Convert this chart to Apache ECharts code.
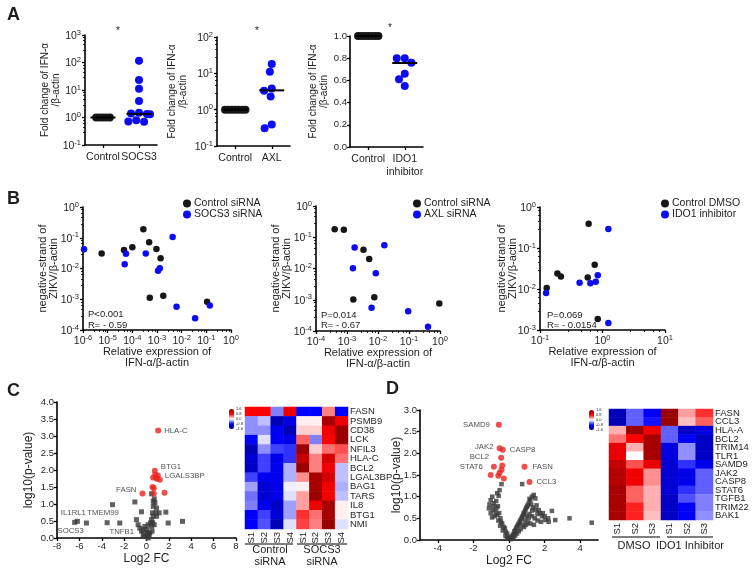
<!DOCTYPE html>
<html><head><meta charset="utf-8">
<script src="https://cdn.jsdelivr.net/npm/echarts@6/dist/echarts.min.js"></script>
<style>html,body{margin:0;padding:0;background:#fff}#main{width:754px;height:576px}</style>
</head><body><div id="main"></div>
<script>
// ================= DATA =================
// Panel A
const aCats1 = ['Control', 'SOCS3'];
const aCats2 = ['Control', 'AXL'];
const aCats3 = ['Control', 'IDO1\ninhibitor'];
const a1Control = [1, 1, 1, 1, 1];
const a1Socs3 = [115, 23, 11, 4.0, 1.5, 1.4, 1.35, 1.3, 0.8, 0.7, 0.72];
const a1Median = [1.0, 1.35];
const a2Control = [1, 1, 1, 1, 1, 1, 1];
const a2Axl = [18, 11, 3.8, 3.3, 2.3, 0.39, 0.31];
const a2Median = [1.0, 3.4];
const a3Control = [1, 1, 1, 1, 1, 1, 1];
const a3Ido = [0.80, 0.80, 0.76, 0.66, 0.61, 0.55];
const a3Median = [1.0, 0.757];

// Panel B  (x = relative IFN-a expression, y = negative-strand ZIKV)
const b1CtrlX = [5.7e-6, 4.6e-5, 1.0e-4, 2.8e-4, 4.8e-4, 9.5e-4, 1.4e-3, 5.1e-4, 1.8e-3, 0.107];
const b1CtrlY = [0.031, 0.040, 0.049, 0.19, 0.071, 0.043, 0.0214, 0.00112, 0.0013, 0.00083];
const b1SocsX = [1.1e-6, 5.5e-5, 4.9e-5, 3.5e-4, 4.3e-3, 1.1e-3, 1.3e-3, 6.2e-3, 0.035, 0.138];
const b1SocsY = [0.042, 0.030, 0.0137, 0.031, 0.106, 0.0085, 0.0102, 0.00057, 0.00024, 0.00063];
const b2CtrlX = [4.0e-4, 7.9e-4, 3.4e-3, 5.2e-3, 1.6e-3, 7.6e-3, 0.95];
const b2CtrlY = [0.18, 0.175, 0.040, 0.020, 0.00102, 0.0012, 0.00076];
const b2AxlX = [1.76e-3, 0.016, 1.55e-3, 8.5e-3, 6.2e-3, 0.094, 0.41];
const b2AxlY = [0.047, 0.055, 0.0102, 0.0070, 0.00055, 0.00043, 0.000138];
const b3CtrlX = [0.128, 0.19, 0.216, 0.60, 0.58, 0.75, 0.84];
const b3CtrlY = [0.0106, 0.024, 0.0203, 0.39, 0.0192, 0.039, 0.00186];
const b3IdoX = [0.125, 0.43, 0.64, 0.78, 0.84, 1.24, 1.24];
const b3IdoY = [0.0080, 0.0143, 0.0138, 0.0151, 0.0215, 0.29, 0.00148];
const bStats = [['P<0.001', 'R= - 0.59'], ['P=0.014', 'R= - 0.67'], ['P=0.069', 'R= - 0.0154']];

// Panel C volcano (x = log2 FC, y = log10 p)
const cRedX = [1.04, 0.74, 1.01, 0.59, 1.19, 0.92, 0.78, 0.54, 0.65, -0.36, 0.65, 1.61, 0.85];
const cRedY = [3.16, 1.98, 1.84, 1.78, 1.71, 1.74, 1.86, 1.50, 1.46, 1.31, 1.30, 1.33, 1.78];
const cRedNames = ['HLA-C', 'BTG1', 'LGALS3BP', '', '', '', '', '', '', 'FASN', '', '', ''];
const cGrayLabX = [-6.42, -6.18, -3.52, -2.39];
const cGrayLabY = [0.46, 0.49, 0.45, 0.44];
const cGrayLabNames = ['SOCS3', 'IL1RL1', 'TMEM99', 'TNFB1'];
const cGray = [[-5.37,0.44],[-3.04,0.98],[-1.04,1.06],[-0.45,0.77],[-0.9,0.54],[-0.75,0.39],[-0.6,0.29],
  [-0.45,0.2],[-0.3,0.1],[0,0.05],[0.15,0],[0.3,0.15],[0.45,0.34],[0.45,0.54],[0.54,0.74],[0.6,0.93],
  [0.6,1.08],[0.45,1.3],[0.75,1.03],[0.9,0.88],[0.9,0.64],[1.13,0.74],[1.73,0.76],[1.94,0.44],[3.22,0.49],
  [-0.15,0.34],[0,0.25],[0.06,0.17],[0.24,0.1],[0.36,0.44],[0.6,0.64],[0.15,0.39],[-0.3,0.25],[0.69,0.39],
  [0.84,0.74],[-0.2,0.05],[0.1,0.12],[0.5,0.2],[0.7,1.15],[0.55,0.45]];

// Panel C heatmap
const cGenes = ['FASN','PSMB9','CD38','LCK','NFIL3','HLA-C','BCL2','LGAL3BP','BAG1','TARS','IL8','BTG1','NMI'];
const cCols = ['S1','S2','S3','S4','S1','S2','S3','S4'];
const cGroups = [['Control', 'siRNA'], ['SOCS3', 'siRNA']];
const cHeat = [
  [0.8,0.8,-0.4,0.9,-0.8,-0.8,0.4,-0.8],
  [-0.35,-0.2,-1.3,-1.0,0.05,0.05,1.4,0.9],
  [-0.35,-0.35,-0.9,-1.3,0.15,0.15,0.9,1.5],
  [-0.8,-0.1,-0.85,-1.0,0.5,-0.4,0.8,1.5],
  [-1.3,-0.35,-0.6,-0.65,1.5,0.15,0.45,0.55],
  [-1.1,-0.6,-0.95,-0.65,1.2,0.4,1.1,0.45],
  [-1.2,-0.6,-0.9,-0.25,1.5,0.4,0.9,-0.2],
  [-0.6,-0.9,-0.9,-0.25,0.35,1.4,1.1,-0.2],
  [-0.3,-1.1,-0.95,-0.05,0.05,1.4,0.9,-0.25],
  [-0.45,-1.1,-0.95,-0.1,0.3,1.5,0.9,-0.2],
  [-0.4,-0.9,-1.2,-0.3,0.3,0.9,1.4,0.05],
  [-0.85,-0.6,-1.1,-0.3,0.65,0.45,1.4,0.05],
  [-0.8,-0.55,-1.3,-0.1,0.6,0.4,1.5,-0.1]
];

// Panel D volcano
const dRedX = [-0.57, -0.53, -0.35, -0.44, -0.85, -0.38, -0.42, -0.53, -1.03, -0.60, -0.29, 0.87, 1.15];
const dRedY = [2.66, 2.12, 2.08, 1.90, 1.69, 1.72, 1.62, 1.55, 1.50, 1.48, 1.42, 1.69, 1.34];
const dRedNames = ['SAMD9','JAK2','CASP8','BCL2','STAT6','','','','','','','FASN','CCL3'];
const dGray = [[-0.42,1.29],[-0.53,1.15],[-0.66,1.08],[-0.58,1.02],[-0.94,1.0],[-1.03,0.92],[-0.85,0.85],
  [-0.72,0.9],[-1.13,0.73],[-0.9,0.69],[-0.75,0.65],[-1.03,0.62],[-0.66,0.58],[-0.8,0.55],[-0.95,0.52],
  [-0.48,0.5],[-0.6,0.45],[-0.38,0.38],[-0.5,0.33],[-0.3,0.3],[-0.23,0.27],[-0.35,0.22],[-0.18,0.19],
  [-0.1,0.15],[-0.2,0.1],[-0.05,0.08],[0,0.04],[-0.12,0.03],[-0.62,0.78],[-0.7,0.74],[-0.88,0.78],
  [-1.1,0.82],[-0.55,0.62],[-0.45,0.42],[0.08,0.02],[0.15,0.05],[0.18,0.08],[0.27,0.15],[0.22,0.12],
  [0.36,0.23],[0.3,0.2],[0.46,0.31],[0.4,0.28],[0.55,0.38],[0.5,0.35],[0.64,0.46],[0.6,0.42],[0.74,0.54],
  [0.7,0.5],[0.83,0.62],[0.8,0.58],[0.92,0.69],[0.88,0.65],[1.01,0.77],[0.96,0.74],[1.1,0.85],[1.05,0.8],
  [1.2,0.92],[1.29,1.0],[1.39,1.04],[1.48,0.96],[0.74,1.29],[1.25,0.82],[1.35,0.75],[1.5,0.7],[1.67,0.69],
  [1.75,0.62],[1.85,0.55],[2.04,0.46],[2.23,0.42],[2.41,0.67],[2.6,0.46],[3.4,0.5],[4.65,0.4],[1.0,0.55],
  [1.15,0.6],[1.3,0.55],[1.45,0.5],[1.6,0.45],[1.8,0.42],[0.9,0.45],[1.05,0.4],[1.2,0.38],[1.4,0.35],
  [0.75,0.35],[0.85,0.3],[0.65,0.25],[0.55,0.2],[0.45,0.15],[0.35,0.1],[0.25,0.05],[1.1,0.5],[0.95,0.35],
  [1.6,0.6],[2.0,0.55],[2.2,0.5],[1.9,0.62],[1.3,0.68],[1.55,0.8],[1.15,0.95]];
const dTicks = [-4, -2, 0, 2, 4];

// Panel D heatmap
const dGenes = ['FASN','CCL3','HLA-A','BCL2','TRIM14','TLR1','SAMD9','JAK2','CASP8','STAT6','TGFB1','TRIM22','BAK1'];
const dCols = ['S1','S2','S3','S1','S2','S3'];
const dGroups = ['DMSO', 'IDO1 Inhibitor'];
const dHeat = [
  [-1.3,-0.5,-0.85,1.5,0.3,0.65],
  [-1.3,-0.5,-0.75,1.5,0.2,0.5],
  [0.25,1.5,0.9,-0.5,-1.2,-1.0],
  [0.45,0.8,1.4,-0.5,-0.85,-1.2],
  [0.95,0.25,1.4,-1.0,-0.35,-1.2],
  [0.95,0.0,1.4,-1.0,-0.35,-1.2],
  [1.2,0.55,0.95,-1.1,-0.65,-0.95],
  [1.3,0.9,0.35,-1.1,-0.95,-0.5],
  [1.3,0.9,0.35,-1.1,-0.95,-0.5],
  [1.4,0.5,0.25,-1.1,-0.65,-0.5],
  [1.4,0.5,0.25,-1.2,-0.55,-0.4],
  [1.4,0.7,0.25,-1.2,-0.85,-0.4],
  [1.4,0.7,0.2,-1.2,-0.85,-0.35]
];
const heatLegendTicks = ['1.6', '0.8', '0.0', '-0.8', '-1.6'];

// ================= STYLE HELPERS =================
const FONT = '"Liberation Sans", Arial, Helvetica, sans-serif';
const BLACK = '#161616', BLUE = '#0b0bf5', RED = '#e8231f', GRAY = '#3a3a3a', TXT = '#1e1e1e';
const lineSt = {show: true, onZero: false, lineStyle: {color: '#000', width: 1.6}};
const tickSt = {show: true, length: 3, lineStyle: {color: '#000', width: 1.3}};
const nameSt = {color: TXT, fontFamily: FONT, fontSize: 11, lineHeight: 11};
function logFmt(v) {
  const e = Math.round(Math.log10(v));
  return '{b|10}{s|' + (e < 0 ? '-' + (-e) : e) + '}';
}
const logRich = {
  b: {fontSize: 10.5, color: TXT, fontFamily: FONT, verticalAlign: 'bottom'},
  s: {fontSize: 7.5, color: TXT, fontFamily: FONT, verticalAlign: 'bottom', padding: [0, 0, 5, 0]}
};
function logAxis(grid, min, max, extra) {
  return Object.assign({
    type: 'log', logBase: 10, gridIndex: grid, min: min, max: max,
    axisLine: lineSt, axisTick: tickSt, splitLine: {show: false},
    minorTick: {show: true, splitNumber: 5, length: 2, lineStyle: {color: '#000', width: 0.8}},
    axisLabel: {formatter: logFmt, rich: logRich, margin: 4},
    nameTextStyle: nameSt, nameLocation: 'middle', nameMoveOverlap: false
  }, extra);
}
function valAxis(grid, min, max, interval, dec, extra) {
  return Object.assign({
    type: 'value', gridIndex: grid, min: min, max: max, interval: interval,
    axisLine: lineSt, axisTick: tickSt, splitLine: {show: false},
    axisLabel: {color: TXT, fontFamily: FONT, fontSize: 9.5, margin: 3,
      formatter: v => dec ? v.toFixed(dec) : String(v)},
    nameTextStyle: nameSt, nameLocation: 'middle', nameMoveOverlap: false
  }, extra);
}
function catAxisA(grid, cats, margin, hidden) {
  return {
    type: 'category', gridIndex: grid, data: cats, boundaryGap: true, show: !hidden, position: 'bottom',
    axisLine: lineSt, axisTick: {show: true, alignWithLabel: true, length: 3, lineStyle: {color: '#000', width: 1.3}},
    axisLabel: {color: TXT, fontFamily: FONT, fontSize: 10.5, margin: 6, lineHeight: 13, interval: 0},
    jitter: 24, jitterOverlap: false, jitterMargin: margin
  };
}
function heatX(grid, cols) {
  return {
    type: 'category', gridIndex: grid, data: cols.map((c, i) => 'c' + i),
    axisLine: {show: false}, axisTick: {show: false}, splitLine: {show: false},
    axisLabel: {color: TXT, fontFamily: FONT, fontSize: 9.5, rotate: 90, margin: 3, interval: 0,
      formatter: (v) => cols[+v.slice(1)]}
  };
}
function heatY(grid, genes) {
  return {
    type: 'category', gridIndex: grid, data: genes, inverse: true, position: 'right',
    axisLine: {show: false}, axisTick: {show: false}, splitLine: {show: false},
    axisLabel: {color: TXT, fontFamily: FONT, fontSize: 9.5, margin: 2, interval: 0}
  };
}
function medianSeries(ax, cats, vals) {
  return {
    type: 'custom', xAxisIndex: ax, yAxisIndex: ax, z: 10,
    data: vals.map((v, i) => [cats[i], v]),
    renderItem: (params, api) => {
      const p = api.coord([api.value(0), api.value(1)]);
      return {type: 'line', shape: {x1: p[0] - 12.5, y1: p[1], x2: p[0] + 12.5, y2: p[1]},
        style: {stroke: '#000', lineWidth: 2}};
    }
  };
}
function dots(ax, ay, name, data, color, size) {
  return {type: 'scatter', name: name, xAxisIndex: ax, yAxisIndex: ay, data: data,
    symbol: 'circle', symbolSize: size, itemStyle: {color: color, opacity: 1}, z: 3};
}
function zip(xs, ys) { return xs.map((x, i) => [x, ys[i]]); }
function heatData(m) {
  const out = [];
  m.forEach((row, r) => row.forEach((v, c) => out.push(['c' + c, r, v])));
  return out;
}

// label placements for named volcano points (style, not data)
const labelPlace = {
  'HLA-C': {position: 'right', distance: 3},
  'BTG1': {position: 'right', distance: 3, offset: [0, -4]},
  'LGALS3BP': {position: 'right', distance: 4, offset: [0, 0]},
  'FASN_C': {position: 'left', distance: 3, offset: [0, -4]},
  'SOCS3': {position: 'bottom', distance: 2, offset: [-4, 0]},
  'IL1RL1': {position: 'top', distance: 2, offset: [-4, 0]},
  'TMEM99': {position: 'top', distance: 3, offset: [-4, 0]},
  'TNFB1': {position: 'bottom', distance: 2, offset: [2, 0]},
  'SAMD9': {position: 'left', distance: 6},
  'JAK2': {position: 'left', distance: 3, offset: [0, -1]},
  'CASP8': {position: 'right', distance: 4},
  'BCL2': {position: 'left', distance: 9, offset: [0, -1]},
  'STAT6': {position: 'left', distance: 8},
  'FASN_D': {position: 'right', distance: 5},
  'CCL3': {position: 'right', distance: 4}
};
function labelled(xs, ys, names, suffix) {
  return xs.map((x, i) => {
    const n = names[i];
    const item = {value: [x, ys[i]], name: n};
    if (n) {
      const key = labelPlace[n + suffix] ? n + suffix : n;
      item.label = Object.assign({show: true, formatter: n, color: TXT, fontFamily: FONT, fontSize: 7.8}, labelPlace[key]);
    }
    return item;
  });
}

// ================= OPTION =================
const grids = [
  {left: 85, top: 35, width: 72, height: 110},
  {left: 217, top: 37, width: 73, height: 109},
  {left: 350, top: 36, width: 73, height: 111},
  {left: 83, top: 207, width: 148, height: 123},
  {left: 316, top: 206, width: 124, height: 125},
  {left: 540, top: 207, width: 125, height: 123},
  {left: 57, top: 402, width: 179, height: 136},
  {left: 245, top: 407, width: 103, height: 122},
  {left: 420, top: 410, width: 178, height: 130},
  {left: 609, top: 409, width: 104, height: 111}
];

const aName = 'Fold change of IFN-α\n/β-actin';
const bYName = 'negative-strand of\nZIKV/β-actin';
const bXName = 'Relative expression of\nIFN-α/β-actin';
const aNameSt = Object.assign({}, nameSt, {fontSize: 10, lineHeight: 11});
const bigNameSt = Object.assign({}, nameSt, {fontSize: 12});

const xAxes = [
  catAxisA(0, aCats1, 0), catAxisA(1, aCats2, 0), catAxisA(2, aCats3, 0),
  logAxis(3, 1e-6, 1, {name: bXName, nameGap: 16}),
  logAxis(4, 1e-4, 1, {name: bXName, nameGap: 16}),
  logAxis(5, 0.1, 10, {name: bXName, nameGap: 16}),
  valAxis(6, -8, 8, 2, 0, {name: 'Log2 FC', nameGap: 15, nameTextStyle: bigNameSt}),
  heatX(7, cCols),
  valAxis(8, -5, 5, 1, 0, {name: 'Log2 FC', nameGap: 15, nameTextStyle: bigNameSt}),
  heatX(9, dCols),
  // hidden twins for the control groups (denser packing of identical values)
  catAxisA(0, aCats1, -4.6, true), catAxisA(1, aCats2, -4.6, true), catAxisA(2, aCats3, -4.6, true)
];
xAxes[8].axisLabel.customValues = dTicks;
xAxes[8].axisTick = Object.assign({}, tickSt, {customValues: dTicks});

const yAxes = [
  logAxis(0, 0.1, 1000, {name: aName, nameGap: 23, nameTextStyle: aNameSt}),
  logAxis(1, 0.1, 100, {name: aName, nameGap: 28, nameTextStyle: aNameSt}),
  valAxis(2, 0, 1, 0.2, 1, {name: aName, nameGap: 20, nameTextStyle: aNameSt}),
  logAxis(3, 1e-4, 1, {name: bYName, nameGap: 24}),
  logAxis(4, 1e-4, 1, {name: bYName, nameGap: 24}),
  logAxis(5, 1e-3, 1, {name: bYName, nameGap: 22}),
  valAxis(6, 0, 4, 0.5, 1, {name: 'log10(p-value)', nameGap: 23, nameTextStyle: bigNameSt}),
  heatY(7, cGenes),
  valAxis(8, 0, 3, 0.5, 1, {name: 'log10(p-value)', nameGap: 18, nameTextStyle: bigNameSt}),
  heatY(9, dGenes)
];

const series = [
  dots(10, 0, 'a1c', a1Control.map(v => [aCats1[0], v]), BLACK, 8),
  dots(0, 0, 'a1s', a1Socs3.map(v => [aCats1[1], v]), BLUE, 8),
  medianSeries(0, aCats1, a1Median),
  dots(11, 1, 'a2c', a2Control.map(v => [aCats2[0], v]), BLACK, 8),
  dots(1, 1, 'a2s', a2Axl.map(v => [aCats2[1], v]), BLUE, 8),
  medianSeries(1, aCats2, a2Median),
  dots(12, 2, 'a3c', a3Control.map(v => [aCats3[0], v]), BLACK, 8),
  dots(2, 2, 'a3s', a3Ido.map(v => [aCats3[1], v]), BLUE, 8),
  medianSeries(2, aCats3, a3Median),
  dots(3, 3, 'Control siRNA', zip(b1CtrlX, b1CtrlY), BLACK, 6.5),
  dots(3, 3, 'SOCS3 siRNA', zip(b1SocsX, b1SocsY), BLUE, 6.5),
  dots(4, 4, 'Control siRNA', zip(b2CtrlX, b2CtrlY), BLACK, 6.5),
  dots(4, 4, 'AXL siRNA', zip(b2AxlX, b2AxlY), BLUE, 6.5),
  dots(5, 5, 'Control DMSO', zip(b3CtrlX, b3CtrlY), BLACK, 6.5),
  dots(5, 5, 'IDO1 inhibitor', zip(b3IdoX, b3IdoY), BLUE, 6.5),
  {type: 'scatter', xAxisIndex: 6, yAxisIndex: 6, data: cGray, symbol: 'rect', symbolSize: 5, itemStyle: {color: GRAY}},
  {type: 'scatter', xAxisIndex: 6, yAxisIndex: 6, data: labelled(cGrayLabX, cGrayLabY, cGrayLabNames, '_C'), symbol: 'rect', symbolSize: 5, itemStyle: {color: GRAY}},
  {type: 'scatter', xAxisIndex: 6, yAxisIndex: 6, data: labelled(cRedX, cRedY, cRedNames, '_C'), symbol: 'circle', symbolSize: 6, itemStyle: {color: RED}, z: 4},
  {type: 'heatmap', xAxisIndex: 7, yAxisIndex: 7, data: heatData(cHeat)},
  {type: 'scatter', xAxisIndex: 8, yAxisIndex: 8, data: dGray, symbol: 'rect', symbolSize: 4.5, itemStyle: {color: GRAY}},
  {type: 'scatter', xAxisIndex: 8, yAxisIndex: 8, data: labelled(dRedX, dRedY, dRedNames, '_D'), symbol: 'circle', symbolSize: 6, itemStyle: {color: RED}, z: 4},
  {type: 'heatmap', xAxisIndex: 9, yAxisIndex: 9, data: heatData(dHeat)}
];
const cHeatIdx = series.findIndex(s => s.type === 'heatmap');
const dHeatIdx = series.length - 1;

const heatColors = ['#00008b', '#0000ff', '#ffffff', '#ff0000', '#8b0000'];
function vmap(idx, left, top) {
  return {type: 'continuous', seriesIndex: idx, min: -1.6, max: 1.6, calculable: false, orient: 'vertical',
    left: left, top: top, itemWidth: 5, itemHeight: 20, padding: 0, text: null,
    inRange: {color: heatColors}, textStyle: {fontSize: 4}};
}

function legend(left, top, names) {
  return {left: left, top: top, orient: 'vertical', padding: 0, itemGap: 0, icon: 'circle',
    itemWidth: 8, itemHeight: 8, selectedMode: false, data: names,
    textStyle: {color: TXT, fontFamily: FONT, fontSize: 10.5, padding: [0, 0, 0, -2]}};
}

// text decorations
const G = [];
function txt(x, y, text, font, align, extra) {
  G.push(Object.assign({type: 'text', x: x, y: y, silent: true,
    style: {text: text, font: font, fill: TXT, textAlign: align || 'left', textVerticalAlign: 'middle'}}, extra || {}));
}
function hline(x1, x2, y) {
  G.push({type: 'line', silent: true, shape: {x1: x1, y1: y, x2: x2, y2: y}, style: {stroke: '#555', lineWidth: 1.5}});
}
const bold = 'bold 18px ' + FONT;
txt(7, 15, 'A', bold); txt(7, 199, 'B', bold); txt(7, 391, 'C', bold); txt(386, 389, 'D', bold);
const star = '10px ' + FONT;
txt(118, 31, '*', star, 'center'); txt(257, 31, '*', star, 'center'); txt(390, 28, '*', star, 'center');
const sFont = '9.5px ' + FONT;
txt(88, 314, bStats[0][0], sFont); txt(88, 325, bStats[0][1], sFont);
txt(321, 315, bStats[1][0], sFont); txt(321, 325, bStats[1][1], sFont);
txt(547, 315, bStats[2][0], sFont); txt(547, 325, bStats[2][1], sFont);
// heatmap group labels
const gFont = '11px ' + FONT;
hline(245, 293, 544); hline(297, 347, 544);
txt(270, 550, cGroups[0][0], gFont, 'center'); txt(270, 562, cGroups[0][1], gFont, 'center');
txt(322, 550, cGroups[1][0], gFont, 'center'); txt(322, 562, cGroups[1][1], gFont, 'center');
hline(612, 660, 537); hline(667, 713, 537);
txt(634, 546, dGroups[0], gFont, 'center'); txt(690, 546, dGroups[1], gFont, 'center');
// heat legend labels
const tiny = '4px ' + FONT;
function heatLegendText(x, y0) {
  heatLegendTicks.forEach((t, i) => txt(x, y0 + i * 5, t, tiny));
  txt(x - 11, y0 + 10, 'Fold changes', tiny, 'center', {rotation: Math.PI / 2, originX: x - 11, originY: y0 + 10});
}
heatLegendText(236, 409);
heatLegendText(596, 410);

const option = {
  animation: false,
  backgroundColor: '#fff',
  textStyle: {fontFamily: FONT},
  grid: grids,
  xAxis: xAxes,
  yAxis: yAxes,
  series: series,
  visualMap: [vmap(cHeatIdx, 229, 409), vmap(dHeatIdx, 589, 410)],
  legend: [
    legend(183, 198, ['Control siRNA', 'SOCS3 siRNA']),
    legend(413, 198, ['Control siRNA', 'AXL siRNA']),
    legend(661, 198, ['Control DMSO', 'IDO1 inhibitor'])
  ],
  graphic: G
};
const chart = echarts.init(document.getElementById('main'), null, {renderer: 'canvas', width: 754, height: 576});
chart.setOption(option);
</script>
</body></html>
